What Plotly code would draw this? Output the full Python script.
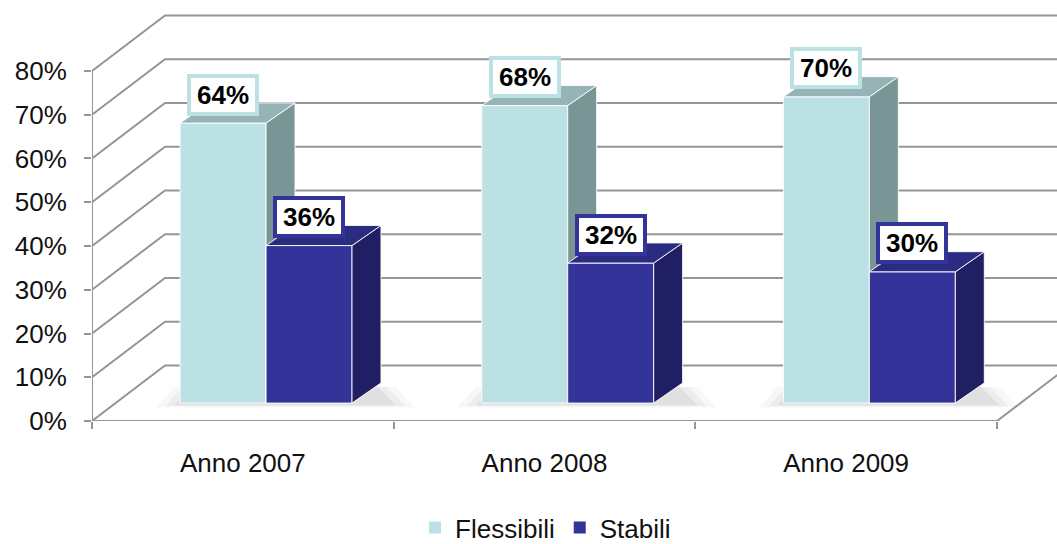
import plotly.graph_objects as go

# ---------------- data ----------------
categories = ["Anno 2007", "Anno 2008", "Anno 2009"]
flessibili = [64, 68, 70]
stabili = [36, 32, 30]
y_ticks = [0, 10, 20, 30, 40, 50, 60, 70, 80]
y_ticktext = [f"{v}%" for v in y_ticks]

# ---------------- styling / pseudo-3D geometry ----------------
FONT = "Liberation Sans, Arial, sans-serif"
GRID = "#959595"
WALL_DX, WALL_DY = 0.242, 12.7      # depth of the walls (x in category units, y in %)
FRONT_DX, FRONT_DY = 0.077, 4.1     # where the bars' front face sits in depth
BAR_DX, BAR_DY = 0.096, 4.6         # depth of the bars
BAR_W = 0.285
X_MIN, X_MAX = -0.5, 2.699
Y_MAX = 93.94

series = [
    dict(name="Flessibili", vals=flessibili, front="#BCE1E4", side="#7A9596", top="#96B3B5",
         border="#BCE1E4", off=-BAR_W),
    dict(name="Stabili", vals=stabili, front="#333399", side="#211F63", top="#2B2B82",
         border="#333399", off=0.0),
]

fig = go.Figure()

# walls: gridlines on left side wall + back wall
gx, gy = [], []
for v in y_ticks:
    gx += [X_MIN, X_MIN + WALL_DX, X_MAX + 1, None]
    gy += [v, v + WALL_DY, v + WALL_DY, None]
fig.add_trace(go.Scatter(x=gx, y=gy, mode="lines", line=dict(color=GRID, width=2),
                         hoverinfo="skip", showlegend=False))
# floor edges: front and right
n = len(categories)
fig.add_trace(go.Scatter(x=[X_MIN, n - 0.5, n - 0.5 + WALL_DX * 1.5],
                         y=[0, 0, WALL_DY * 1.5], mode="lines",
                         line=dict(color=GRID, width=2), hoverinfo="skip", showlegend=False))
# y axis line (front left edge)
fig.add_trace(go.Scatter(x=[X_MIN, X_MIN], y=[0, y_ticks[-1]], mode="lines",
                         line=dict(color=GRID, width=2), hoverinfo="skip", showlegend=False))

# soft floor shadows under each group
for i in range(n):
    for k, (grow, alpha) in enumerate([(0.06, 0.03), (0.03, 0.04), (0.0, 0.05)]):
        xl = i + FRONT_DX - BAR_W - 0.02 - grow
        xr = i + FRONT_DX + BAR_W + BAR_DX + 0.05 + grow
        yb = FRONT_DY - 0.5 - grow * 8
        yt = FRONT_DY + BAR_DY * 0.8
        fig.add_trace(go.Scatter(
            x=[xl, xr, xr - 0.06, xl + 0.06, xl], y=[yb, yb, yt, yt, yb],
            fill="toself", fillcolor=f"rgba(0,0,0,{alpha})", line=dict(width=0),
            mode="lines", hoverinfo="skip", showlegend=False))

# bars drawn as polygons (front, side, top) in painter's order
for i in range(n):
    for s in series:
        v = s["vals"][i]
        xl = i + FRONT_DX + s["off"]
        xr = xl + BAR_W
        b = FRONT_DY
        t = b + v
        edge = dict(color="rgba(255,255,255,0.9)", width=1)
        # front
        fig.add_trace(go.Scatter(x=[xl, xr, xr, xl, xl], y=[b, b, t, t, b], fill="toself",
                                 fillcolor=s["front"], line=edge, mode="lines",
                                 hoverinfo="skip", showlegend=False))
        # side
        fig.add_trace(go.Scatter(x=[xr, xr + BAR_DX, xr + BAR_DX, xr, xr],
                                 y=[b, b + BAR_DY, t + BAR_DY, t, b], fill="toself",
                                 fillcolor=s["side"], line=edge, mode="lines",
                                 hoverinfo="skip", showlegend=False))
        # top
        fig.add_trace(go.Scatter(x=[xl, xr, xr + BAR_DX, xl + BAR_DX, xl],
                                 y=[t, t, t + BAR_DY, t + BAR_DY, t], fill="toself",
                                 fillcolor=s["top"], line=edge, mode="lines",
                                 hoverinfo="skip", showlegend=False))

# legend entries
for s in series:
    fig.add_trace(go.Bar(x=[None], y=[None], name=s["name"], marker=dict(color=s["front"], line=dict(width=0))))

# value labels
for i in range(n):
    for s in series:
        v = s["vals"][i]
        xc = i + FRONT_DX + s["off"] + BAR_W / 2
        fig.add_annotation(x=xc, y=FRONT_DY + v + 6.5, text=f"<b>{v}%</b>", showarrow=False,
                           font=dict(family=FONT, size=26, color="#000"),
                           bgcolor="white", bordercolor=s["border"], borderwidth=4,
                           borderpad=1, width=62, height=32)

fig.update_layout(
    width=1057, height=544,
    margin=dict(l=92, r=0, t=10, b=123),
    paper_bgcolor="white", plot_bgcolor="white",
    font=dict(family=FONT, size=26, color="#111"),
    showlegend=True,
    legend=dict(orientation="h", x=0.470, xanchor="center", xref="paper",
                y=0.03, yanchor="middle", yref="container",
                font=dict(size=26), itemwidth=30, traceorder="normal"),
    xaxis=dict(range=[X_MIN, X_MAX], tickvals=list(range(n)), ticktext=categories,
               ticks="", showgrid=False, zeroline=False, showline=False, automargin=False,
               ticklabelstandoff=24,
               minor=dict(tickvals=[k - 0.5 for k in range(n + 1)], ticks="outside",
                          ticklen=7, tickcolor=GRID, tickwidth=2, showgrid=False)),
    yaxis=dict(range=[0, Y_MAX], tickvals=y_ticks, ticktext=y_ticktext, ticks="outside",
               ticklen=7, tickcolor=GRID, tickwidth=2, showgrid=False, zeroline=False,
               showline=False, automargin=False, ticklabelstandoff=12),
)

fig.write_html("out.html", config={"displayModeBar": False},
               post_script="document.body.style.margin='0';")
